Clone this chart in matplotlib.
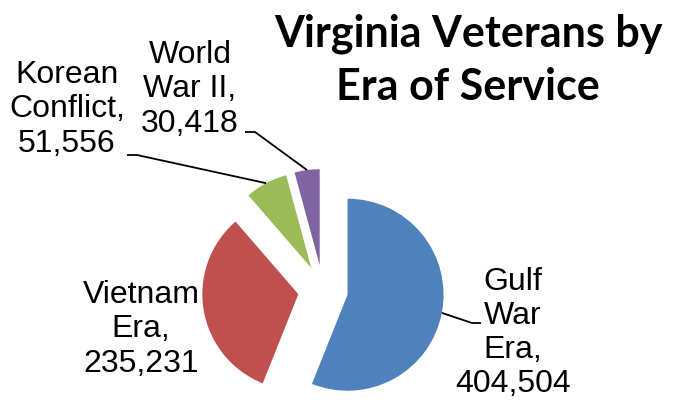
import matplotlib
matplotlib.use("Agg")
import matplotlib.pyplot as plt
import numpy as np

# data
eras = ["Gulf War Era", "Vietnam Era", "Korean Conflict", "World War II"]
veterans = [404504, 235231, 51556, 30418]
colors = ["#4F81BD", "#C0504D", "#9BBB59", "#8064A2"]
label_text = ["Gulf\nWar\nEra,\n404,504", "Vietnam\nEra,\n235,231",
              "Korean\nConflict,\n51,556", "World\nWar II,\n30,418"]

fig = plt.figure(figsize=(6.76, 4.0), dpi=100)
ax = fig.add_axes([0, 0, 1, 1])
ax.set_xlim(0, 676)
ax.set_ylim(0, 400)
ax.set_aspect("equal")
ax.axis("off")

# pie in pixel-like coordinates (y up)
r = 96
wedges, _ = ax.pie(veterans, colors=colors, startangle=90, counterclock=False,
                   center=(323, 110), radius=r, explode=[25] * 4,
                   wedgeprops=dict(linewidth=0))
ax.set_xlim(0, 676)
ax.set_ylim(0, 400)

# label position (x, last baseline) and leader elbow
lab_pos = [(513, 8), (141, 28), (67, 248), (190, 268)]
elbows = [[(472, 77), (481, 77)], None, [(137, 245), (127, 245)],
          [(255, 268), (245, 268)]]

for w, txt, pos, elb in zip(wedges, label_text, lab_pos, elbows):
    ax.text(pos[0], pos[1], txt, ha="center", va="baseline", multialignment="center",
            fontsize=23, family="Liberation Sans",
            linespacing=1.17 if pos[1] < 10 else 1.2)
    if elb is not None:
        a = np.deg2rad((w.theta1 + w.theta2) / 2)
        cx, cy = w.center
        px, py = cx + r * np.cos(a), cy + r * np.sin(a)
        xs = [px] + [p[0] for p in elb]
        ys = [py] + [p[1] for p in elb]
        ax.plot(xs, ys, color="black", lw=1.3, solid_capstyle="butt")

ax.text(468, 300, "Virginia Veterans by\nEra of Service", ha="center", va="baseline",
        multialignment="center", fontsize=31, fontweight="bold", family="Lato",
        linespacing=1.38)

fig.savefig("out.png", dpi=100)
